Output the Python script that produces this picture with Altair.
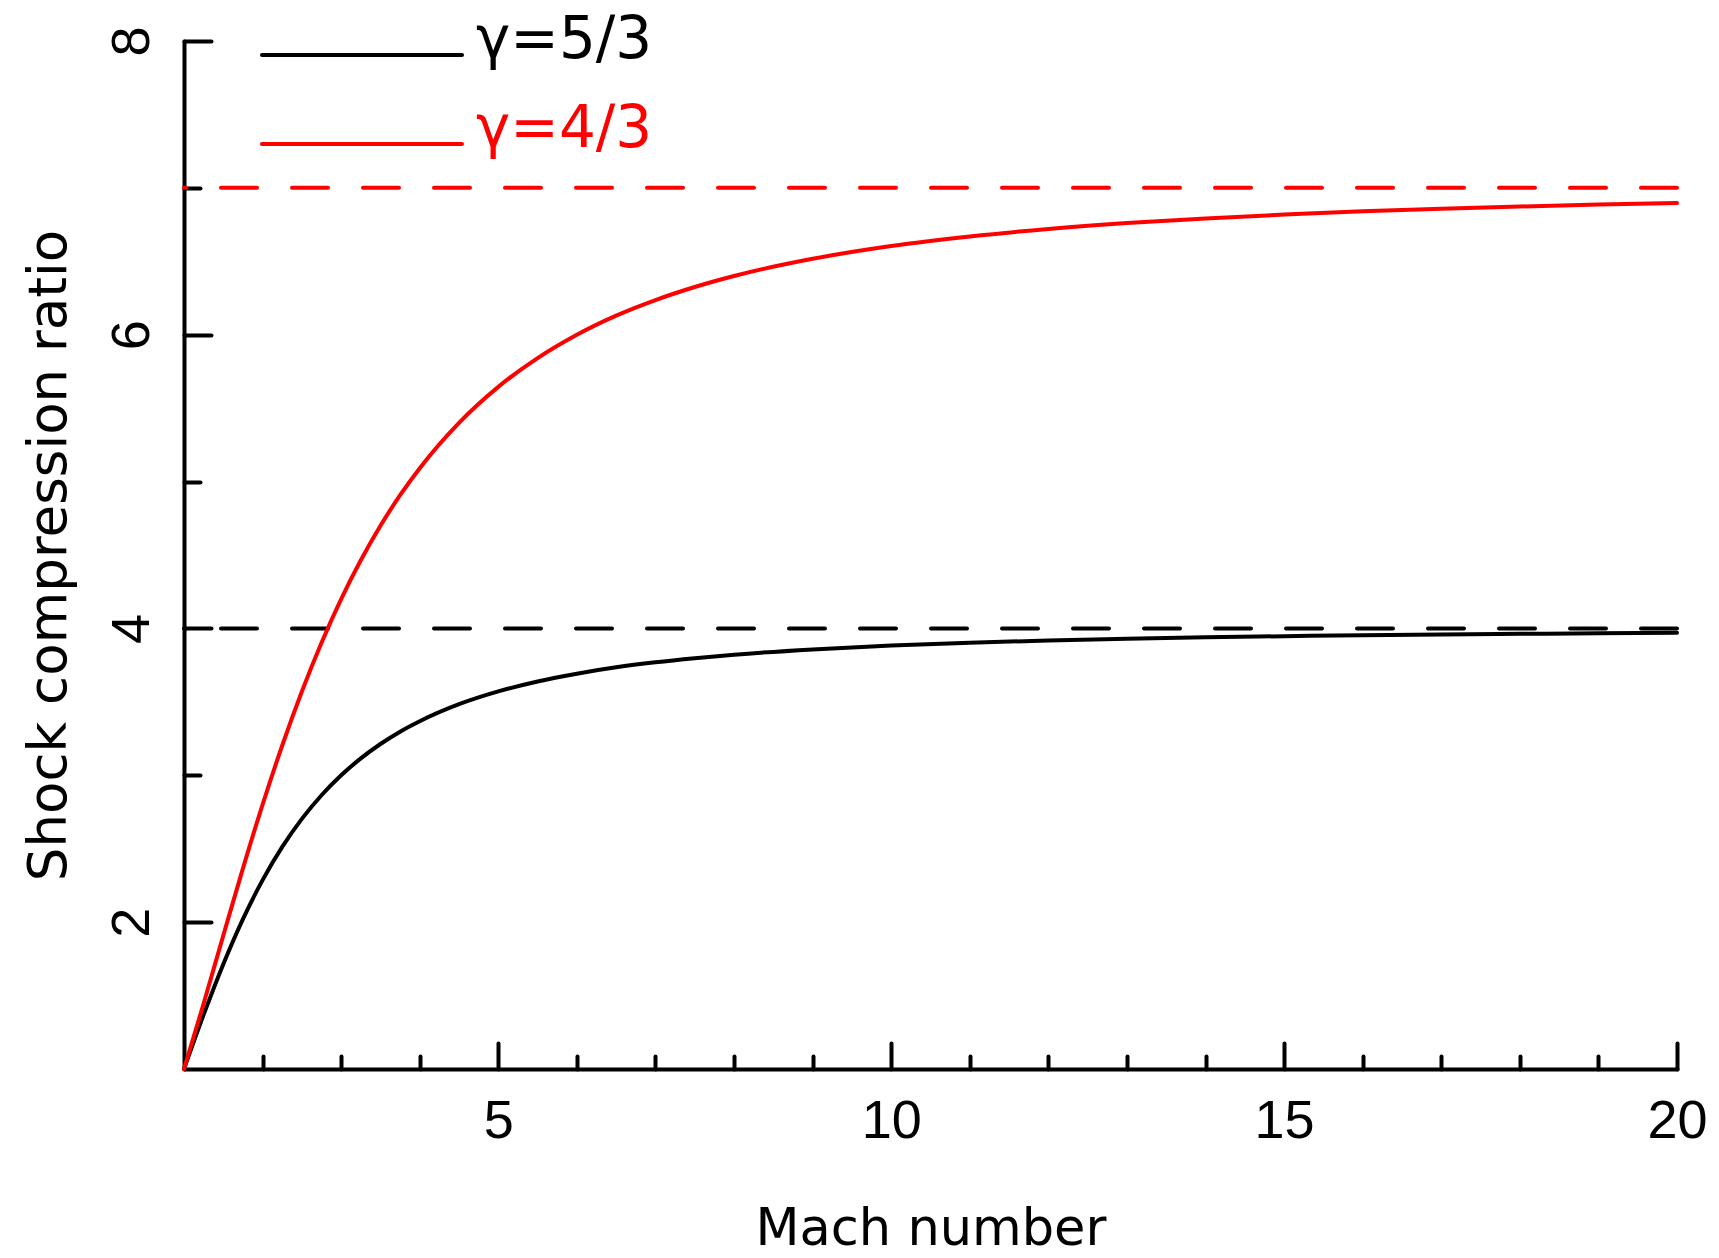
import altair as alt
import pandas as pd

# ---- data ----
mach = [1, 1.25, 1.5, 1.75, 2, 2.25, 2.5, 2.75, 3, 3.25, 3.5, 3.75, 4, 4.5, 5, 5.5, 6, 6.5, 7,
        7.5, 8, 9, 10, 11, 12, 13, 14, 15, 16, 17, 18, 19, 20]
ratio_53 = [1.000, 1.370, 1.714, 2.021, 2.286, 2.512, 2.703, 2.864, 3.000, 3.115, 3.213, 3.297,
            3.368, 3.484, 3.571, 3.639, 3.692, 3.735, 3.769, 3.797, 3.821, 3.857, 3.883, 3.903,
            3.918, 3.930, 3.940, 3.947, 3.954, 3.959, 3.963, 3.967, 3.970]
ratio_43 = [1.000, 1.446, 1.909, 2.366, 2.800, 3.203, 3.571, 3.903, 4.200, 4.464, 4.699, 4.907,
            5.091, 5.400, 5.645, 5.841, 6.000, 6.130, 6.236, 6.325, 6.400, 6.517, 6.604, 6.669,
            6.720, 6.760, 6.792, 6.818, 6.840, 6.858, 6.873, 6.886, 6.897]
series = ["γ=5/3", "γ=4/3"]
colors = ["black", "red"]
limits = [4, 7]
x_major = [5, 10, 15, 20]
x_minor = [2, 3, 4, 6, 7, 8, 9, 11, 12, 13, 14, 16, 17, 18, 19]
y_major = [2, 4, 6, 8]
y_minor = [3, 5, 7]

curves = pd.DataFrame({
    "mach": mach + mach,
    "ratio": ratio_53 + ratio_43,
    "series": [series[0]] * len(mach) + [series[1]] * len(mach),
})
limits_df = pd.DataFrame({"ratio": limits, "series": series})
legend_df = pd.DataFrame({"series": series})

W, H = 1493, 1028
FONT = "DejaVu Sans"
NUMFONT = "Liberation Sans"

x_scale = alt.Scale(domain=[1, 20], nice=False, zero=False)
y_scale = alt.Scale(domain=[1, 8], nice=False, zero=False)
color_scale = alt.Scale(domain=series, range=colors)
color = alt.Color("series:N", scale=color_scale, legend=None)

rules = alt.Chart(limits_df).mark_rule(strokeWidth=4, strokeDash=[36, 35], strokeCap="round").encode(
    y=alt.Y("ratio:Q", scale=y_scale, axis=None),
    color=color,
)

lines = alt.Chart(curves).mark_line(strokeWidth=4, strokeCap="round", strokeJoin="round",
                                    interpolate="monotone").encode(
    x=alt.X("mach:Q", scale=x_scale, axis=alt.Axis(
        orient="bottom", values=x_major, ticks=False, grid=False,
        domain=True, domainWidth=4, domainColor="black", domainCap="round",
        labelFont=NUMFONT, labelFontSize=54, labelColor="black", labelPadding=25,
        labelFlush=False, labelOverlap=False,
        title="Mach number", titleFont=FONT, titleFontSize=51, titleFontWeight="normal",
        titleColor="black", titleBaseline="alphabetic", titleAlign="center",
        titleX=W / 2, titleY=175)),
    y=alt.Y("ratio:Q", scale=y_scale, axis=alt.Axis(
        orient="left", values=y_major, ticks=False, grid=False,
        domain=True, domainWidth=4, domainColor="black", domainCap="round",
        labelFont=NUMFONT, labelFontSize=54, labelColor="black", labelPadding=36,
        labelAngle=-90, labelAlign="center", labelBaseline="alphabetic",
        labelFlush=False, labelOverlap=False,
        title="Shock compression ratio", titleFont=FONT, titleFontSize=53,
        titleFontWeight="normal", titleColor="black", titleAngle=-90,
        titleBaseline="alphabetic", titleAlign="center", titleX=-119, titleY=H / 2)),
    color=color,
)


def tick_layer(xv, yv, xlen, ylen):
    return alt.Chart(curves).mark_line(opacity=0).encode(
        x=alt.X("mach:Q", scale=x_scale, axis=alt.Axis(
            orient="top", offset=-H, values=xv, labels=False, domain=False, grid=False,
            ticks=True, tickSize=xlen, tickWidth=4, tickColor="black", tickCap="round",
            title=None)),
        y=alt.Y("ratio:Q", scale=y_scale, axis=alt.Axis(
            orient="right", offset=-W, values=yv, labels=False, domain=False, grid=False,
            ticks=True, tickSize=ylen, tickWidth=4, tickColor="black", tickCap="round",
            title=None)),
        detail="series:N",
    )


major = tick_layer(x_major, y_major, 26, 27)
minor = tick_layer(x_minor, y_minor, 13, 16)

leg_y = alt.Y("series:N", scale=alt.Scale(type="point", domain=series, range=[14, 103], padding=0),
              axis=None)
leg_rules = alt.Chart(legend_df).mark_rule(strokeWidth=4, strokeCap="round").encode(
    x=alt.value(78), x2=alt.value(278), y=leg_y, color=color)
leg_text = alt.Chart(legend_df).mark_text(align="left", baseline="middle", dy=-14,
                                          font=FONT, fontSize=58).encode(
    x=alt.value(292), y=leg_y, text="series:N", color=color)

chart = alt.layer(rules, lines, major, minor, leg_rules, leg_text).resolve_scale(
    y="independent"
).resolve_axis(
    x="independent", y="independent"
).properties(
    width=W, height=H,
    autosize=alt.AutoSizeParams(type="none"),
    padding={"left": 184, "top": 41, "right": 42, "bottom": 189},
    background="white",
).configure_view(stroke=None)

chart.save("out.html", embed_options={"renderer": "svg", "actions": False})
